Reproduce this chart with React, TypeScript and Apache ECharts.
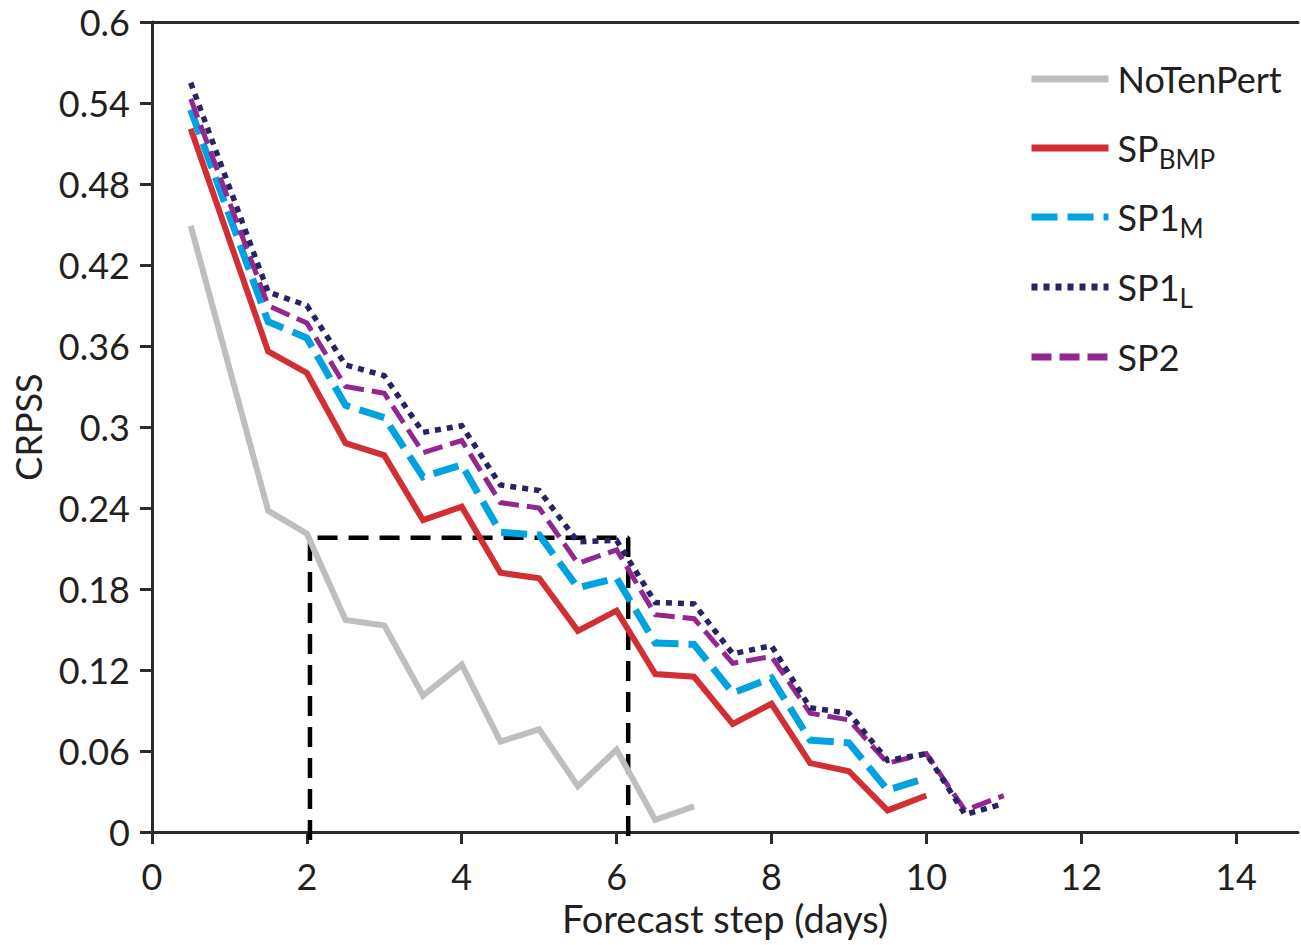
import React, { useEffect, useRef } from "react";
import * as echarts from "echarts";

const xSteps = [0.5, 1.5, 2, 2.5, 3, 3.5, 4, 4.5, 5, 5.5, 6, 6.5, 7, 7.5, 8, 8.5, 9, 9.5, 10, 10.5, 11];
const noTenPert = [0.449, 0.238, 0.221, 0.157, 0.153, 0.101, 0.124, 0.067, 0.076, 0.034, 0.061, 0.009, 0.019];
const spBMP = [0.521, 0.356, 0.340, 0.288, 0.279, 0.231, 0.241, 0.192, 0.188, 0.149, 0.164, 0.117, 0.115, 0.080, 0.095, 0.051, 0.045, 0.016, 0.027];
const sp1M = [0.535, 0.378, 0.366, 0.316, 0.307, 0.263, 0.272, 0.222, 0.220, 0.181, 0.188, 0.140, 0.139, 0.103, 0.114, 0.068, 0.066, 0.031, 0.040];
const sp1L = [0.555, 0.400, 0.390, 0.346, 0.338, 0.296, 0.301, 0.257, 0.253, 0.215, 0.216, 0.170, 0.169, 0.132, 0.138, 0.092, 0.088, 0.053, 0.058, 0.013, 0.021];
const sp2 = [0.543, 0.390, 0.377, 0.330, 0.325, 0.281, 0.290, 0.244, 0.240, 0.199, 0.209, 0.161, 0.158, 0.125, 0.130, 0.088, 0.083, 0.051, 0.058, 0.016, 0.027];

const boxX = [2.04, 2.04, 6.15, 6.15];
const boxY = [-0.006, 0.218, 0.218, -0.006];

const xTicks = [0, 2, 4, 6, 8, 10, 12, 14];
const yTicks = [0, 0.06, 0.12, 0.18, 0.24, 0.3, 0.36, 0.42, 0.48, 0.54, 0.6];

const FONT = "Lato, 'Open Sans', sans-serif";
const AXIS_COLOR = "#2b2b2b";
const TEXT_COLOR = "#231f20";

const pairs = (xs: number[], ys: number[]) => ys.map((y, i) => [xs[i], y]);

const legendNames = ["NoTenPert", "SP_BMP", "SP1_M", "SP1_L", "SP2"];
const legendRows = [79, 148, 217, 287, 357];

const legendLabel = (name: string) => {
  if (name === "SP_BMP") return "{m|SP}{s|BMP}";
  if (name === "SP1_M") return "{m|SP1}{s|M}";
  if (name === "SP1_L") return "{m|SP1}{s|L}";
  return "{m|" + name + "}";
};

export default function App() {
  const ref = useRef<HTMLDivElement>(null);
  useEffect(() => {
    if (!ref.current) return;
    const chart = echarts.init(ref.current, undefined, { renderer: "svg" });
    const lineSeries = (name: string, data: number[], color: string, width: number, type: any) => ({
      name,
      type: "line",
      data: pairs(xSteps, data),
      symbol: "none",
      showSymbol: false,
      lineStyle: { color, width, type, cap: "butt", join: "miter" },
      itemStyle: { color },
      z: 3,
    });
    const option: any = {
      animation: false,
      backgroundColor: "#ffffff",
      textStyle: { fontFamily: FONT },
      grid: { left: 152, top: 22, right: 3, bottom: 113, containLabel: false },
      legend: legendNames.map((n, i) => ({
        data: [n],
        left: 1028,
        top: legendRows[i] - 18,
        itemWidth: 77,
        itemHeight: 10,
        padding: 0,
        selectedMode: false,
        formatter: legendLabel,
        itemStyle: { opacity: 0 },
        lineStyle: { width: 7 },
        textStyle: {
          fontFamily: FONT,
          color: TEXT_COLOR,
          padding: [0, 0, 0, 4],
          rich: {
            m: { fontSize: 36, fontFamily: FONT, color: TEXT_COLOR, height: 36 },
            s: { fontSize: 26, fontFamily: FONT, color: TEXT_COLOR, padding: [22, 0, 0, 0] },
          },
        },
      })),
      xAxis: [
        {
          type: "value",
          min: 0,
          max: 14.8,
          interval: 2,
          name: "Forecast step (days)",
          nameLocation: "middle",
          nameGap: 67,
          nameTextStyle: { fontSize: 38, color: TEXT_COLOR, fontFamily: FONT },
          axisLine: { show: true, onZero: false, lineStyle: { color: AXIS_COLOR, width: 3 } },
          axisTick: { show: true, length: 12, inside: false, customValues: xTicks, lineStyle: { color: AXIS_COLOR, width: 3 } },
          axisLabel: { customValues: xTicks, fontSize: 36, color: TEXT_COLOR, margin: 26, fontFamily: FONT },
          splitLine: { show: false },
        },
        {
          type: "value",
          position: "top",
          min: 0,
          max: 14.8,
          axisLine: { show: true, onZero: false, lineStyle: { color: AXIS_COLOR, width: 3 } },
          axisTick: { show: false },
          axisLabel: { show: false },
          splitLine: { show: false },
        },
      ],
      yAxis: {
        type: "value",
        min: 0,
        max: 0.6,
        interval: 0.06,
        name: "CRPSS",
        nameLocation: "middle",
        nameGap: 106,
        nameTextStyle: { fontSize: 36, color: TEXT_COLOR, fontFamily: FONT },
        axisLine: { show: true, onZero: false, lineStyle: { color: AXIS_COLOR, width: 3 } },
        axisTick: { show: true, length: 12, customValues: yTicks, lineStyle: { color: AXIS_COLOR, width: 3 } },
        axisLabel: {
          customValues: yTicks,
          fontSize: 36,
          color: TEXT_COLOR,
          margin: 22,
          fontFamily: FONT,
          formatter: (v: number) => String(parseFloat(v.toFixed(2))),
        },
        splitLine: { show: false },
      },
      series: [
        {
          name: "box",
          type: "line",
          data: pairs(boxX, boxY),
          symbol: "none",
          clip: false,
          lineStyle: { color: "#000000", width: 4.5, type: [20, 11] },
          z: 2,
        },
        lineSeries("NoTenPert", noTenPert, "#bcbec0", 6, "solid"),
        lineSeries("SP_BMP", spBMP, "#d12f34", 6, "solid"),
        lineSeries("SP1_M", sp1M, "#00a3e0", 7, [26, 10]),
        lineSeries("SP2", sp2, "#92278f", 5, [20, 8]),
        lineSeries("SP1_L", sp1L, "#272463", 5.5, [6, 6]),
      ],
    };
    chart.setOption(option);
    return () => chart.dispose();
  }, []);
  return (
    <div
      ref={ref}
      style={{ position: "absolute", left: 0, top: 0, width: 1301, height: 945 }}
    />
  );
}
